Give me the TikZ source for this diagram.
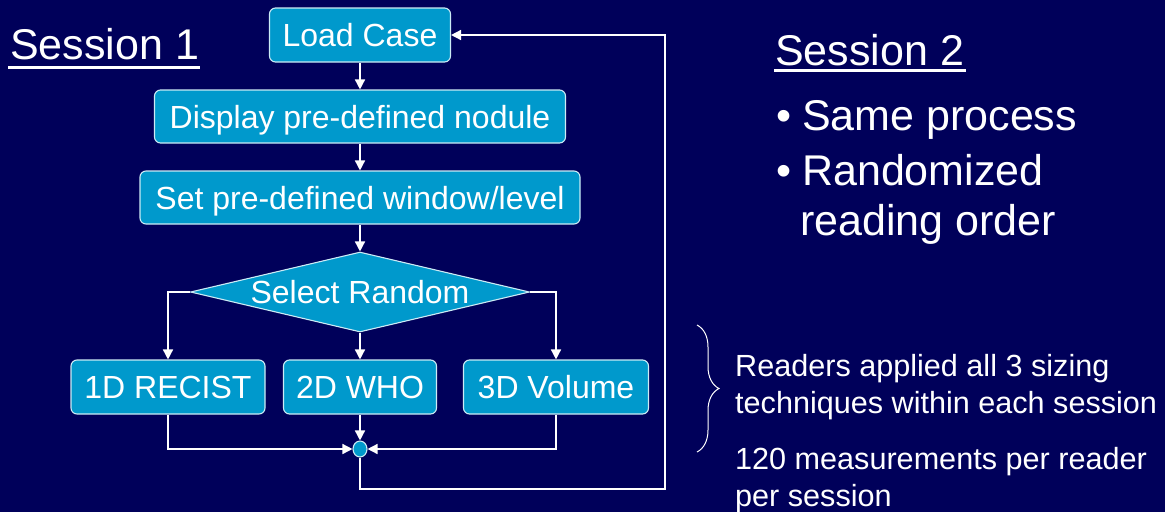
\documentclass[tikz,border=0pt]{standalone}
\usepackage{fontspec}
\setmainfont{Liberation Sans}
\usetikzlibrary{shapes.geometric,arrows.meta,decorations.pathreplacing}
\definecolor{navy}{RGB}{0,0,90}
\definecolor{boxblue}{RGB}{0,153,204}
\begin{document}
\begin{tikzpicture}[x=1pt,y=-1pt,
  box/.style={draw=white!80!boxblue, line width=1.1pt, fill=boxblue, rounded corners=6pt,
    text=white, font=\fontsize{32}{36}\selectfont, minimum height=54pt,
    inner sep=0pt, text height=23pt, text depth=0pt},
  decide/.style={diamond, draw=white!80!boxblue, line width=1.1pt, fill=boxblue,
    text=white, font=\fontsize{32}{36}\selectfont, aspect=4.24, inner sep=0pt,
    text height=23pt, text depth=0pt, minimum width=339pt, minimum height=80pt},
  joint/.style={ellipse, draw=white!80!boxblue, line width=1.1pt, fill=boxblue,
    minimum width=14pt, minimum height=16pt, inner sep=0pt},
  arr/.style={draw=white, line width=1.5pt, -{Triangle[length=10pt,width=10pt]}},
  title/.style={text=white, font=\fontsize{43}{48}\selectfont, anchor=base west, inner sep=0pt},
  bigtext/.style={text=white, font=\fontsize{43}{48}\selectfont, anchor=base west, inner sep=0pt},
  note/.style={text=white, font=\fontsize{30.6}{37}\selectfont, anchor=base west, inner sep=0pt}]
\fill[navy] (0,0) rectangle (1165,512);
\useasboundingbox (0,0) rectangle (1165,512);

% flowchart
\node[box, minimum width=181pt] (load) at (360,35) {Load Case};
\node[box, minimum width=411pt, minimum height=53pt] (disp) at (360,116.5) {Display pre-defined nodule};
\node[box, minimum width=440pt, minimum height=53pt] (set) at (360,197.5) {Set pre-defined window/level};
\node[decide] (sel) at (360,292) {Select Random};
\node[box, minimum width=194pt] (r1) at (168,387) {1D RECIST};
\node[box, minimum width=153pt] (r2) at (360,387) {2D WHO};
\node[box, minimum width=185pt] (r3) at (556,387) {3D Volume};
\node[joint] (j) at (360,449) {};
\coordinate (loop) at (665,489);

\draw[arr] (load) -- (disp);
\draw[arr] (disp) -- (set);
\draw[arr] (set) -- (sel);
\draw[arr] (sel.west) -| (r1.north);
\draw[arr] (sel) -- (r2);
\draw[arr] (sel.east) -| (r3.north);
\draw[arr] (r1.south) |- (j.west);
\draw[arr] (r2) -- (j);
\draw[arr] (r3.south) |- (j.east);
\draw[arr] (j.south) |- (loop) |- (load.east);

% titles
\node[title] (s1) at (10,59) {Session 1};
\fill[white] (8,65.7) rectangle (200,69);
\node[title] (s2) at (775,65) {Session 2};
\fill[white] (774,69) rectangle (966,72.3);

% session 2 bullets
\node[bigtext] (b1) at (776,130) {•};
\node[bigtext] (t1) at (802,130) {Same process};
\node[bigtext] (b2) at (776,185) {•};
\node[bigtext] (t2) at (802,185) {Randomized};
\node[bigtext] (t3) at (800,235) {reading order};

% brace and notes
\draw[white, line width=1pt, decorate, decoration={brace, amplitude=22pt}] (697,325) -- (697,452);
\node[note] (n1) at (735,376) {Readers applied all 3 sizing};
\node[note] (n2) at (735,413) {techniques within each session};
\node[note] (n3) at (735,469) {120 measurements per reader};
\node[note] (n4) at (735,506) {per session};
\end{tikzpicture}
\end{document}
